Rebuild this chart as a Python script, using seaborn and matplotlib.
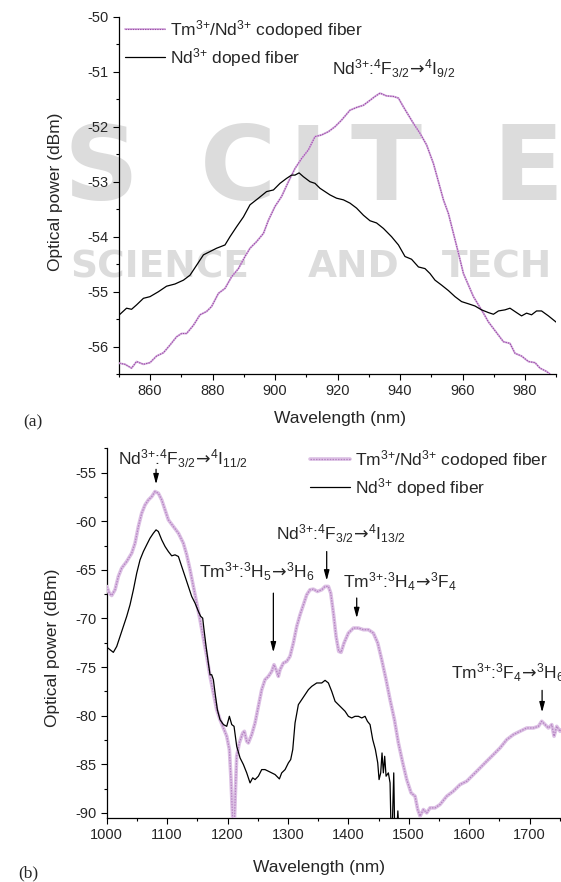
import matplotlib
matplotlib.use("Agg")
import matplotlib.pyplot as plt
import seaborn as sns
import pandas as pd
from matplotlib.ticker import MultipleLocator
from matplotlib.lines import Line2D

# ---------------- data : panel (a) ----------------
nd_a_wl = [850.2, 852.5, 854.1, 855.7, 857.9, 860.0, 862.7, 865.3, 868.0, 870.7,
           872.8, 874.9, 877.1, 879.2, 881.3, 884.0, 885.6, 887.7, 889.9, 892.0,
           894.7, 897.3, 899.5, 901.6, 903.7, 905.3, 906.4, 907.7, 909.1, 911.2,
           912.8, 914.4, 917.6, 919.7, 921.9, 924.0, 926.1, 928.3, 930.4, 932.5,
           934.7, 937.3, 939.5, 941.6, 943.7, 945.9, 948.0, 949.6, 951.2, 953.3,
           955.5, 957.6, 959.7, 961.9, 964.0, 966.1, 968.3, 969.9, 971.5, 973.6,
           975.2, 977.3, 978.9, 980.5, 982.1, 983.7, 985.3, 987.5, 989.9, 991.0]
nd_a_pw = [-55.42, -55.30, -55.32, -55.24, -55.12, -55.09, -55.00, -54.90, -54.86, -54.79,
           -54.70, -54.52, -54.33, -54.27, -54.21, -54.15, -54.00, -53.82, -53.64, -53.42,
           -53.30, -53.18, -53.15, -53.03, -52.94, -52.88, -52.88, -52.84, -52.91, -53.00,
           -53.03, -53.12, -53.24, -53.30, -53.33, -53.39, -53.48, -53.61, -53.71, -53.75,
           -53.85, -54.00, -54.15, -54.36, -54.41, -54.55, -54.58, -54.67, -54.79, -54.88,
           -54.98, -55.09, -55.18, -55.22, -55.26, -55.33, -55.38, -55.41, -55.35, -55.33,
           -55.30, -55.38, -55.44, -55.39, -55.42, -55.35, -55.35, -55.44, -55.55, -55.60]

tm_a_wl = [850.2, 852.0, 854.1, 855.7, 857.9, 860.0, 862.1, 864.3, 866.4, 868.5,
           870.1, 871.7, 873.9, 876.0, 878.1, 879.7, 881.9, 884.0, 886.1, 888.3,
           890.4, 892.0, 894.1, 896.3, 897.9, 900.0, 902.1, 904.3, 906.4, 908.5,
           910.7, 912.8, 914.9, 917.1, 919.2, 921.3, 924.0, 926.1, 928.3, 930.4,
           932.0, 933.6, 935.7, 937.9, 939.5, 941.1, 942.7, 944.3, 946.4, 948.5,
           950.7, 952.3, 953.9, 955.5, 957.1, 958.7, 960.3, 961.9, 963.5, 965.1,
           966.7, 968.3, 969.9, 971.5, 973.1, 975.2, 976.8, 978.9, 981.1, 983.2,
           984.8, 986.9, 988.5, 990.1]
tm_a_pw = [-56.30, -56.32, -56.39, -56.27, -56.32, -56.29, -56.17, -56.11, -55.97, -55.82,
           -55.76, -55.76, -55.61, -55.42, -55.36, -55.27, -55.03, -54.94, -54.73, -54.58,
           -54.36, -54.21, -54.09, -53.94, -53.70, -53.45, -53.27, -53.00, -52.76, -52.58,
           -52.42, -52.18, -52.15, -52.09, -52.00, -51.88, -51.70, -51.65, -51.61, -51.52,
           -51.45, -51.39, -51.44, -51.45, -51.48, -51.64, -51.79, -51.94, -52.12, -52.33,
           -52.67, -53.00, -53.33, -53.58, -53.94, -54.30, -54.67, -54.88, -55.09, -55.24,
           -55.39, -55.55, -55.67, -55.79, -55.91, -55.94, -56.12, -56.17, -56.27, -56.29,
           -56.39, -56.45, -56.52, -56.58]

# ---------------- data : panel (b) ----------------
tm_b_wl = [1000.0, 1004.4, 1008.3, 1013.8, 1019.3, 1024.8, 1033.1, 1041.4, 1046.9, 1052.4,
           1057.9, 1063.5, 1069.0, 1074.5, 1080.0, 1085.5, 1091.1, 1096.6, 1102.1, 1110.4,
           1118.7, 1126.9, 1132.5, 1138.0, 1143.5, 1149.0, 1154.5, 1160.0, 1165.6, 1171.1,
           1176.6, 1182.1, 1187.6, 1193.2, 1198.7, 1203.1, 1205.8, 1208.6, 1210.8, 1213.0,
           1215.2, 1219.6, 1225.2, 1227.9, 1231.8, 1234.5, 1240.1, 1245.6, 1251.1, 1256.6,
           1262.1, 1267.7, 1273.2, 1277.0, 1281.5, 1284.2, 1287.0, 1292.5, 1298.0, 1303.5,
           1309.0, 1314.6, 1320.1, 1325.6, 1331.1, 1336.6, 1342.2, 1348.8, 1356.0, 1361.5,
           1367.0, 1370.9, 1375.3, 1379.7, 1384.1, 1388.0, 1392.9, 1400.1, 1408.4, 1416.7,
           1424.9, 1433.2, 1441.5, 1448.7, 1455.3, 1462.5, 1469.1, 1476.3, 1482.9, 1490.1,
           1496.7, 1503.9, 1510.5, 1514.9, 1518.8, 1524.3, 1529.8, 1535.3, 1543.6, 1551.9,
           1562.9, 1573.9, 1585.0, 1596.0, 1607.1, 1618.1, 1629.1, 1640.2, 1651.2, 1662.3,
           1673.3, 1684.3, 1695.4, 1706.4, 1714.7, 1720.2, 1725.7, 1731.2, 1736.8, 1740.6,
           1745.0, 1750.5, 1756.0]
tm_b_pw = [-66.71, -67.40, -67.64, -67.05, -65.68, -64.83, -64.14, -63.29, -62.26, -60.55,
           -59.18, -58.32, -57.81, -57.47, -56.95, -57.12, -57.81, -58.84, -59.86, -60.55,
           -61.23, -62.26, -63.46, -65.00, -66.71, -68.42, -70.14, -72.02, -73.90, -75.96,
           -77.67, -79.38, -80.41, -81.27, -82.12, -83.49, -86.58, -90.80, -92.00, -87.95,
           -84.18, -82.81, -81.78, -81.61, -82.64, -82.81, -81.95, -80.75, -79.04, -77.33,
           -76.30, -75.96, -75.45, -74.76, -75.45, -75.96, -75.27, -74.59, -74.42, -73.90,
           -72.53, -70.82, -69.62, -68.60, -67.57, -67.05, -66.99, -67.23, -67.05, -66.71,
           -66.71, -67.40, -69.45, -71.85, -73.39, -73.49, -72.53, -71.51, -70.99, -70.99,
           -71.16, -71.16, -71.51, -72.53, -74.25, -76.30, -78.36, -80.41, -82.81, -84.86,
           -86.58, -87.95, -88.29, -89.66, -90.34, -89.66, -90.00, -89.49, -89.49, -89.14,
           -88.29, -87.77, -87.09, -86.75, -86.06, -85.38, -84.69, -84.01, -83.32, -82.47,
           -81.95, -81.61, -81.27, -81.27, -81.10, -80.58, -80.92, -81.27, -80.92, -82.12,
           -81.10, -81.61, -81.30]

nd_b_wl = [1000.0, 1005.5, 1011.0, 1016.6, 1022.1, 1027.6, 1033.1, 1038.6, 1044.2, 1049.7,
           1055.2, 1060.7, 1066.2, 1071.7, 1077.3, 1081.7, 1085.5, 1091.1, 1096.6, 1102.1,
           1107.6, 1113.1, 1118.7, 1124.2, 1129.7, 1135.2, 1140.7, 1146.2, 1151.8, 1155.6,
           1158.9, 1161.1, 1164.5, 1168.3, 1171.1, 1173.8, 1176.6, 1179.4, 1183.2, 1187.6,
           1193.2, 1198.7, 1203.1, 1207.0, 1210.8, 1215.2, 1220.8, 1226.3, 1231.8, 1237.3,
           1241.7, 1245.6, 1251.1, 1256.6, 1262.1, 1267.7, 1273.2, 1278.7, 1285.9, 1289.7,
           1295.3, 1300.8, 1304.6, 1308.0, 1311.8, 1317.3, 1322.8, 1328.4, 1333.9, 1339.4,
           1347.7, 1356.0, 1361.5, 1367.0, 1372.5, 1378.1, 1383.6, 1389.1, 1394.6, 1400.1,
           1405.6, 1411.1, 1416.7, 1422.2, 1427.7, 1431.6, 1436.0, 1440.4, 1444.8, 1448.7,
           1450.9, 1453.6, 1455.8, 1458.0, 1460.2, 1462.5, 1466.3, 1469.1, 1470.8, 1473.0,
           1475.2, 1476.8, 1480.1, 1482.0, 1484.0]
nd_b_pw = [-72.95, -73.22, -73.49, -72.88, -71.85, -70.82, -69.79, -68.60, -67.05, -65.34,
           -63.97, -63.12, -62.43, -61.75, -61.23, -60.89, -61.06, -61.92, -62.60, -63.12,
           -63.56, -63.46, -63.63, -64.66, -65.68, -66.71, -67.74, -68.42, -69.28, -69.79,
           -69.97, -71.16, -72.88, -74.59, -75.79, -75.79, -76.30, -77.67, -79.38, -80.41,
           -80.92, -81.10, -80.07, -80.92, -81.10, -83.15, -84.35, -85.03, -85.89, -86.92,
           -86.40, -86.58, -86.23, -85.55, -85.55, -85.72, -85.89, -86.06, -86.51, -85.89,
           -85.55, -84.86, -84.52, -83.49, -80.75, -78.87, -78.36, -77.84, -77.33, -76.99,
           -76.64, -76.64, -76.37, -76.64, -77.50, -78.53, -78.87, -79.21, -79.55, -80.07,
           -80.24, -80.07, -80.07, -80.24, -80.07, -80.58, -80.92, -82.47, -83.49, -84.86,
           -86.58, -85.89, -83.84, -85.89, -84.18, -86.23, -85.89, -86.92, -92.00, -91.00,
           -85.89, -92.00, -92.00, -89.80, -92.00]

series_labels = [r"Tm$^{3{+}}$/Nd$^{3{+}}$ codoped fiber", r"Nd$^{3{+}}$ doped fiber"]

ARW = r"\!\mathsf{\rightarrow}\!"
# annotations (text, text-left x, text baseline y, arrow x, arrow start y, arrow end y)
ann_a = [(r"Nd$^{3{+}}$:$^{4}$F$_{3/2}" + ARW + r"^{4}$I$_{9/2}$", 918.3, -51.06)]
ann_b = [
    (r"Nd$^{3{+}}$:$^{4}$F$_{3/2}" + ARW + r"^{4}$I$_{11/2}$", 1019.3, -54.21, 1081.7, -54.66, -56.2),
    (r"Nd$^{3{+}}$:$^{4}$F$_{3/2}" + ARW + r"^{4}$I$_{13/2}$", 1280.4, -61.92, 1364.2, -63.12, -66.1),
    (r"Tm$^{3{+}}$:$^{3}$H$_{5}" + ARW + r"^{3}$H$_{6}$", 1153.4, -65.86, 1275.9, -67.4, -73.49),
    (r"Tm$^{3{+}}$:$^{3}$H$_{4}" + ARW + r"^{3}$F$_{4}$", 1391.8, -66.88, 1413.9, -67.9, -69.97),
    (r"Tm$^{3{+}}$:$^{3}$F$_{4}" + ARW + r"^{3}$H$_{6}$", 1570.1, -76.23, 1720.8, -77.4, -79.66),
]

# publisher watermark (background text)
wm_big = [("S", 101, 200), ("C", 238, 200), ("I", 308, 200), ("T", 386, 200), ("E", 528, 200)]
wm_small = [("SCIENCE", 160, 277), ("AND", 354, 277), ("TECH", 497, 277)]

# ---------------- style ----------------
sns.set_style("ticks")
plt.rcParams["font.family"] = ["Liberation Sans", "DejaVu Sans"]
plt.rcParams["mathtext.fontset"] = "custom"
plt.rcParams["mathtext.rm"] = "Liberation Sans"
plt.rcParams["mathtext.it"] = "Liberation Sans:italic"
plt.rcParams["mathtext.bf"] = "Liberation Sans:bold"
plt.rcParams["mathtext.sf"] = "DejaVu Sans"
plt.rcParams["mathtext.default"] = "regular"
plt.rcParams["axes.unicode_minus"] = False

PALE_A, DARK_A = "#d7b3df", "#9a4aa8"
PALE_B, DARK_B = "#dcc0e4", "#b584c2"
WM = "#dcdcdc"

W, H = 561, 882
fig = plt.figure(figsize=(W / 100, H / 100), dpi=100)

for ch, x, y in wm_big:
    fig.text(x / W, 1 - y / H, ch, fontsize=75, fontweight="bold", color=WM,
             family="DejaVu Sans", ha="center", va="baseline", zorder=-5)
for wd, x, y in wm_small:
    fig.text(x / W, 1 - y / H, wd, fontsize=27, fontweight="bold", color=WM,
             family="DejaVu Sans", ha="center", va="baseline", zorder=-5)


def px_axes(l, t, r, b):
    return fig.add_axes([l / W, 1 - b / H, (r - l) / W, (b - t) / H])


ax1 = px_axes(118.75, 16.7, 556.25, 374.2)
ax2 = px_axes(106.7, 448.3, 583.9, 817.7)
for ax in (ax1, ax2):
    ax.set_facecolor("none")
    ax.set_zorder(1)


def draw_codoped(ax, wl, pw, pale, dark, lw_pale, lw_dark):
    df = pd.DataFrame({"wl": wl, "pw": pw})
    sns.lineplot(data=df, x="wl", y="pw", ax=ax, color=pale, lw=lw_pale,
                 sort=False, estimator=None, zorder=3)
    sns.lineplot(data=df, x="wl", y="pw", ax=ax, color=dark, lw=lw_dark,
                 linestyle=(0, (1.2, 1.0)), sort=False, estimator=None, zorder=3.1)


def draw_nd(ax, wl, pw, lw):
    df = pd.DataFrame({"wl": wl, "pw": pw})
    sns.lineplot(data=df, x="wl", y="pw", ax=ax, color="black", lw=lw,
                 sort=False, estimator=None, zorder=4)


draw_codoped(ax1, tm_a_wl, tm_a_pw, PALE_A, DARK_A, 1.4, 0.8)
draw_nd(ax1, nd_a_wl, nd_a_pw, 0.9)
draw_codoped(ax2, tm_b_wl, tm_b_pw, PALE_B, DARK_B, 2.6, 0.9)
draw_nd(ax2, nd_b_wl, nd_b_pw, 0.9)

ax1.set_xlim(850, 990)
ax1.set_ylim(-56.5, -50)
ax1.xaxis.set_major_locator(MultipleLocator(20))
ax1.xaxis.set_minor_locator(MultipleLocator(10))
ax1.yaxis.set_major_locator(MultipleLocator(1))
ax1.yaxis.set_minor_locator(MultipleLocator(0.5))

ax2.set_xlim(1000, 1790)
ax2.set_ylim(-90.5, -52.5)
ax2.xaxis.set_major_locator(MultipleLocator(100))
ax2.xaxis.set_minor_locator(MultipleLocator(50))
ax2.yaxis.set_major_locator(MultipleLocator(5))
ax2.yaxis.set_minor_locator(MultipleLocator(2.5))

for ax in (ax1, ax2):
    sns.despine(ax=ax)
    for s in ("left", "bottom"):
        ax.spines[s].set_linewidth(0.9)
        ax.spines[s].set_color("black")
    ax.tick_params(which="major", direction="out", length=4.2, width=0.8,
                   labelsize=10.5, color="black", pad=3.2)
    ax.tick_params(which="minor", direction="out", length=2.3, width=0.8, color="black")
    ax.set_xlabel("Wavelength (nm)", fontsize=12.5)
    ax.set_ylabel("Optical power (dBm)", fontsize=12.5)

ax1.xaxis.set_label_coords(0.5046, -0.103)
ax1.yaxis.set_label_coords(-0.127, 0.511)
ax2.xaxis.set_label_coords(0.4459, -0.1145)
ax2.yaxis.set_label_coords(-0.0978, 0.46)


def legend_handles(pale, dark, lw_pale, lw_dark):
    h1 = (Line2D([], [], color=pale, lw=lw_pale),
          Line2D([], [], color=dark, lw=lw_dark, linestyle=(0, (1.2, 1.0))))
    h2 = Line2D([], [], color="black", lw=0.9)
    return [h1, h2]


ax1.legend(legend_handles(PALE_A, DARK_A, 1.4, 0.8), series_labels,
           loc="upper left", bbox_to_anchor=(125 / W, 1 - 18 / H),
           bbox_transform=fig.transFigure, frameon=False, fontsize=12.5,
           handlelength=2.3, handletextpad=0.3, labelspacing=0.3,
           borderpad=0, borderaxespad=0)
ax2.legend(legend_handles(PALE_B, DARK_B, 2.6, 0.9), series_labels,
           loc="upper left", bbox_to_anchor=(310 / W, 1 - 448 / H),
           bbox_transform=fig.transFigure, frameon=False, fontsize=12.5,
           handlelength=2.3, handletextpad=0.3, labelspacing=0.3,
           borderpad=0, borderaxespad=0)

for txt, x, y in ann_a:
    ax1.text(x, y, txt, fontsize=12.5, ha="left", va="baseline")
for txt, x, y, ax_x, y0, y1 in ann_b:
    ax2.text(x, y, txt, fontsize=12.5, ha="left", va="baseline", clip_on=False)
    ax2.annotate("", xy=(ax_x, y1), xytext=(ax_x, y0),
                 arrowprops=dict(arrowstyle="-|>,head_length=0.6,head_width=0.16",
                                 color="black", lw=0.9, shrinkA=0, shrinkB=0))

fig.text(33 / W, 1 - 422 / H, "(a)", family="Liberation Serif", fontsize=12.5,
         ha="center", va="center")
fig.text(28.5 / W, 1 - 873 / H, "(b)", family="Liberation Serif", fontsize=12.5,
         ha="center", va="center")

fig.savefig("out.png", dpi=100)
